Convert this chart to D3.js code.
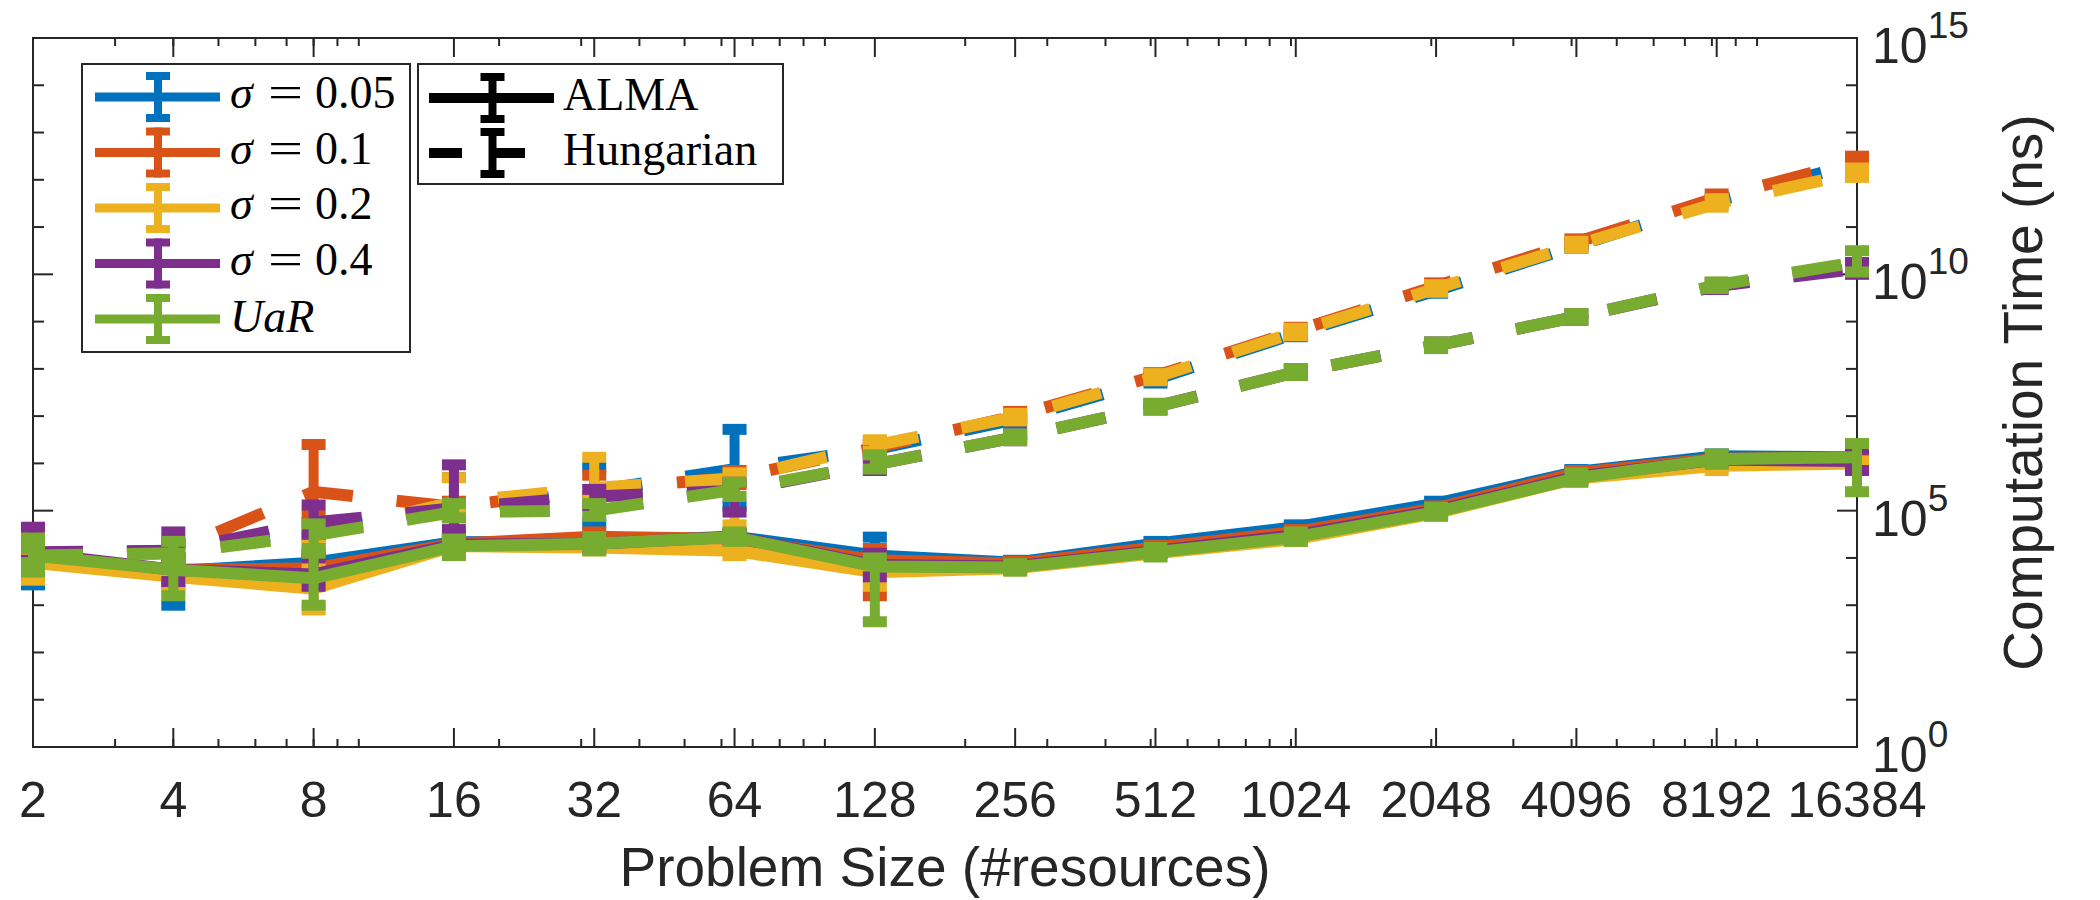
<!DOCTYPE html>
<html><head><meta charset="utf-8">
<script src="https://cdn.jsdelivr.net/npm/d3@7"></script>
<style>body{margin:0;background:#fff}svg{display:block}</style>
</head><body>
<svg id="chart" width="2100" height="900"></svg>
<script>
// ---------- data (computation time, stored as log10 of ns) ----------
const sizes = [2,4,8,16,32,64,128,256,512,1024,2048,4096,8192,16384];
const xTickLabels = ["2","4","8","16","32","64","128","256","512","1024","2048","4096","8192","16384"];
const yTickExponents = [0,5,10,15];
const legendSigma = ["0.05","0.1","0.2","0.4"];
const legendAlgos = ["ALMA","Hungarian"];
const colors = ["#0072BD","#D95319","#EDB120","#7E2F8E","#77AC30"];

// ALMA (solid)
const almaMean005 = [4.0,3.72,3.9,4.33,4.35,4.45,4.05,3.9,4.3,4.65,5.15,5.82,6.15,6.13];
const almaLo005   = [3.43,3.0,3.75,4.25,4.28,4.38,3.75,3.85,4.25,4.6,5.1,5.77,6.1,6.08];
const almaHi005   = [4.3,4.0,4.05,4.4,4.42,4.52,4.44,3.95,4.35,4.7,5.2,5.87,6.2,6.18];
const almaMean01  = [4.05,3.75,3.78,4.3,4.45,4.4,3.95,3.88,4.22,4.55,5.05,5.8,6.1,6.12];
const almaLo01    = [3.7,3.45,3.5,4.22,4.35,4.3,3.2,3.83,4.17,4.5,5.0,5.75,6.05,6.07];
const almaHi01    = [4.48,4.05,4.05,4.38,4.55,4.5,4.2,3.93,4.27,4.6,5.1,5.85,6.15,6.17];
const almaMean02  = [3.9,3.6,3.35,4.25,4.22,4.15,3.7,3.78,4.1,4.4,4.95,5.68,5.95,6.0];
const almaLo02    = [3.53,3.3,2.9,4.18,4.15,4.05,3.4,3.73,4.05,4.35,4.9,5.63,5.85,5.95];
const almaHi02    = [4.2,3.9,3.8,4.32,4.3,4.25,4.0,3.83,4.15,4.45,5.0,5.73,6.05,6.05];
const almaMean04  = [4.1,3.75,3.65,4.28,4.3,4.45,3.85,3.82,4.15,4.48,5.0,5.72,6.08,6.05];
const almaLo04    = [3.8,3.5,3.4,4.2,4.22,4.38,3.6,3.77,4.1,4.43,4.95,5.67,6.03,5.85];
const almaHi04    = [4.65,4.55,4.0,4.36,4.38,4.52,4.1,3.87,4.2,4.53,5.05,5.77,6.13,6.3];
const almaMeanUaR = [4.05,3.75,3.57,4.25,4.3,4.44,3.82,3.8,4.12,4.44,4.97,5.69,6.09,6.13];
const almaLoUaR   = [3.7,3.2,3.0,4.05,4.15,4.35,2.65,3.72,4.02,4.35,4.88,5.6,5.98,5.4];
const almaHiUaR   = [4.42,4.1,4.2,4.4,4.45,4.55,4.0,3.88,4.22,4.55,5.07,5.8,6.2,6.42];

// Hungarian (dashed)
const hungMean005 = [4.05,4.15,4.6,5.0,5.42,5.88,6.3,6.93,7.78,8.75,9.66,10.6,11.55,12.35];
const hungLo005   = [3.9,4.0,4.45,4.85,4.73,5.1,6.2,6.85,7.7,8.68,9.6,10.55,11.5,12.3];
const hungHi005   = [4.2,4.3,4.75,5.7,5.92,6.72,6.4,7.0,7.85,8.82,9.72,10.65,11.6,12.4];
const hungMean01  = [4.1,4.15,5.4,5.08,5.45,5.7,6.33,7.0,7.85,8.8,9.75,10.68,11.62,12.4];
const hungLo01    = [3.95,4.0,4.9,4.95,5.3,5.55,6.2,6.9,7.75,8.72,9.68,10.6,11.55,12.32];
const hungHi01    = [4.25,4.3,6.4,5.2,5.75,5.85,6.45,7.1,7.92,8.88,9.82,10.75,11.7,12.5];
const hungMean02  = [4.0,4.1,4.5,5.18,5.48,5.68,6.38,6.98,7.82,8.78,9.7,10.62,11.5,12.15];
const hungLo02    = [3.85,3.95,4.3,5.0,5.3,4.7,6.25,6.9,7.75,8.7,9.62,10.55,11.42,12.05];
const hungHi02    = [4.15,4.25,4.7,5.7,6.13,5.8,6.5,7.06,7.9,8.86,9.78,10.7,11.6,12.25];
const hungMean04  = [4.12,4.15,4.75,5.05,5.3,5.42,5.98,6.55,7.2,7.93,8.5,9.1,9.75,10.12];
const hungLo04    = [3.95,4.0,4.5,4.6,5.1,4.97,5.85,6.48,7.13,7.86,8.43,9.03,9.68,10.0];
const hungHi04    = [4.3,4.3,5.12,5.97,5.45,5.6,6.1,6.62,7.27,8.0,8.57,9.17,9.82,10.25];
const hungMeanUaR = [4.05,4.1,4.48,4.97,5.0,5.44,5.98,6.55,7.2,7.93,8.5,9.1,9.77,10.26];
const hungLoUaR   = [3.9,3.9,4.1,4.85,4.88,5.3,5.88,6.48,7.13,7.86,8.43,9.03,9.7,10.05];
const hungHiUaR   = [4.2,4.35,4.72,5.15,5.15,5.6,6.18,6.62,7.27,8.0,8.57,9.17,9.84,10.5];

// ---------- layout ----------
const L = 33, R = 1857, T = 38, B = 747;
const axisColor = "#262626";
const sansFont = "'Liberation Sans', Arial, Helvetica, sans-serif";
const serifFont = "'Liberation Serif', 'Times New Roman', serif";

const svg = d3.select("#chart");
const x = d3.scaleLog().base(2).domain([2,16384]).range([L,R]);
const y = d3.scaleLog().base(10).domain([1,1e15]).range([B,T]);
const yv = e => y(Math.pow(10,e));

// ---------- axes box & ticks ----------
const axes = svg.append("g");
const xMinor = [];
for (let p = 0; p <= 4; p++) for (let k = 1; k <= 9; k++) {
  const v = k*Math.pow(10,p);
  if (v > 2 && v < 16384) xMinor.push(v);
}
xMinor.forEach(v => {
  axes.append("line").attr("x1",x(v)).attr("x2",x(v)).attr("y1",B).attr("y2",B-8)
    .attr("stroke",axisColor).attr("stroke-width",2);
  axes.append("line").attr("x1",x(v)).attr("x2",x(v)).attr("y1",T).attr("y2",T+8)
    .attr("stroke",axisColor).attr("stroke-width",2);
});
sizes.forEach(v => {
  axes.append("line").attr("x1",x(v)).attr("x2",x(v)).attr("y1",B).attr("y2",B-19)
    .attr("stroke",axisColor).attr("stroke-width",2);
  axes.append("line").attr("x1",x(v)).attr("x2",x(v)).attr("y1",T).attr("y2",T+19)
    .attr("stroke",axisColor).attr("stroke-width",2);
});
d3.range(0,16).forEach(e => {
  const major = yTickExponents.includes(e);
  const len = major ? 20 : 11;
  axes.append("line").attr("x1",L).attr("x2",L+len).attr("y1",yv(e)).attr("y2",yv(e))
    .attr("stroke",axisColor).attr("stroke-width",2);
  axes.append("line").attr("x1",R).attr("x2",R-len).attr("y1",yv(e)).attr("y2",yv(e))
    .attr("stroke",axisColor).attr("stroke-width",2);
});
axes.append("rect").attr("x",L).attr("y",T).attr("width",R-L).attr("height",B-T)
  .attr("fill","none").attr("stroke",axisColor).attr("stroke-width",2);

// x tick labels
axes.selectAll("text.xt").data(sizes).join("text")
  .attr("x",d=>x(d)).attr("y",817).attr("text-anchor","middle")
  .attr("font-family",sansFont).attr("font-size",50).attr("fill",axisColor)
  .text((d,i)=>xTickLabels[i]);

// y tick labels (right side, 10^e)
yTickExponents.forEach(e => {
  const t = axes.append("text").attr("x",1872).attr("y",yv(e)+25)
    .attr("font-family",sansFont).attr("font-size",50).attr("fill",axisColor);
  t.append("tspan").text("10");
  t.append("tspan").attr("font-size",37).attr("dy",-25).text(String(e));
});

// axis titles
axes.append("text").attr("x",(L+R)/2).attr("y",886).attr("text-anchor","middle")
  .attr("font-family",sansFont).attr("font-size",55).attr("fill",axisColor)
  .text("Problem Size (#resources)");
axes.append("text").attr("transform",`translate(2042,${(T+B)/2}) rotate(-90)`)
  .attr("text-anchor","middle")
  .attr("font-family",sansFont).attr("font-size",55).attr("fill",axisColor)
  .text("Computation Time (ns)");

// ---------- data ----------
const plot = svg.append("g");
const seriesList = [
  {color:colors[0], alma:[almaMean005,almaLo005,almaHi005], hung:[hungMean005,hungLo005,hungHi005]},
  {color:colors[1], alma:[almaMean01,almaLo01,almaHi01],    hung:[hungMean01,hungLo01,hungHi01]},
  {color:colors[2], alma:[almaMean02,almaLo02,almaHi02],    hung:[hungMean02,hungLo02,hungHi02]},
  {color:colors[3], alma:[almaMean04,almaLo04,almaHi04],    hung:[hungMean04,hungLo04,hungHi04]},
  {color:colors[4], alma:[almaMeanUaR,almaLoUaR,almaHiUaR], hung:[hungMeanUaR,hungLoUaR,hungHiUaR]},
];
const lineGen = d3.line().x((d,i)=>x(sizes[i])).y(d=>yv(d));

function drawErrSeries(parent, arrs, color, dash){
  const [mean, lo, hi] = arrs;
  const grp = parent.append("g");
  sizes.forEach((n,i) => {
    const cx = x(n), y0 = yv(lo[i]), y1 = yv(hi[i]);
    grp.append("line").attr("x1",cx).attr("x2",cx).attr("y1",y0).attr("y2",y1)
      .attr("stroke",color).attr("stroke-width",10);
    [y0,y1].forEach(yy => grp.append("line").attr("x1",cx-12).attr("x2",cx+12)
      .attr("y1",yy).attr("y2",yy).attr("stroke",color).attr("stroke-width",11));
  });
  grp.append("path").attr("d",lineGen(mean)).attr("fill","none")
    .attr("stroke",color).attr("stroke-width",12)
    .attr("stroke-linejoin","miter").attr("stroke-miterlimit",4)
    .attr("stroke-dasharray",dash);
}
seriesList.forEach(s => {
  drawErrSeries(plot, s.alma, s.color, null);
  drawErrSeries(plot, s.hung, s.color, "50 44");
});

// ---------- legends ----------
const leg = svg.append("g");
function legendGlyph(cx, x0, x1, cy, color, dash, lw){
  leg.append("line").attr("x1",x0).attr("x2",x1).attr("y1",cy).attr("y2",cy)
    .attr("stroke",color).attr("stroke-width",lw).attr("stroke-dasharray",dash);
  leg.append("line").attr("x1",cx).attr("x2",cx).attr("y1",cy-25).attr("y2",cy+25)
    .attr("stroke",color).attr("stroke-width",8);
  [cy-21,cy+21].forEach(yy => leg.append("line").attr("x1",cx-12).attr("x2",cx+12)
    .attr("y1",yy).attr("y2",yy).attr("stroke",color).attr("stroke-width",8));
}
// legend 1
leg.append("rect").attr("x",82).attr("y",64).attr("width",328).attr("height",288)
  .attr("fill","#fff").attr("stroke",axisColor).attr("stroke-width",2);
const rows1 = [97,152.5,208,263.5,319];
colors.forEach((c,i) => {
  legendGlyph(158, 95, 220, rows1[i], c, null, 9);
  const base = rows1[i] + 11;
  if (i < 4) {
    leg.append("text").attr("x",230).attr("y",base).attr("font-family",serifFont)
      .attr("font-size",46).attr("font-style","italic").attr("fill","#000").text("σ");
    leg.append("text").attr("transform",`translate(268,${base}) scale(1.35,1)`)
      .attr("font-family",serifFont).attr("font-size",46).attr("fill","#000").text("=");
    leg.append("text").attr("x",315).attr("y",base).attr("font-family",serifFont)
      .attr("font-size",46).attr("fill","#000").text(legendSigma[i]);
  } else {
    leg.append("text").attr("x",230).attr("y",base+2).attr("font-family",serifFont)
      .attr("font-size",46).attr("font-style","italic").attr("fill","#000").text("UaR");
  }
});
// legend 2
leg.append("rect").attr("x",418).attr("y",64).attr("width",365).attr("height",120)
  .attr("fill","#fff").attr("stroke",axisColor).attr("stroke-width",2);
const rows2 = [98,153];
legendAlgos.forEach((a,i) => {
  legendGlyph(492.5, 429, 554, rows2[i], "#000", i===0?null:"33 30", 10);
  leg.append("text").attr("x",563).attr("y",rows2[i]+12)
    .attr("font-family",serifFont).attr("font-size",46).attr("fill","#000").text(a);
});
</script>
</body></html>
